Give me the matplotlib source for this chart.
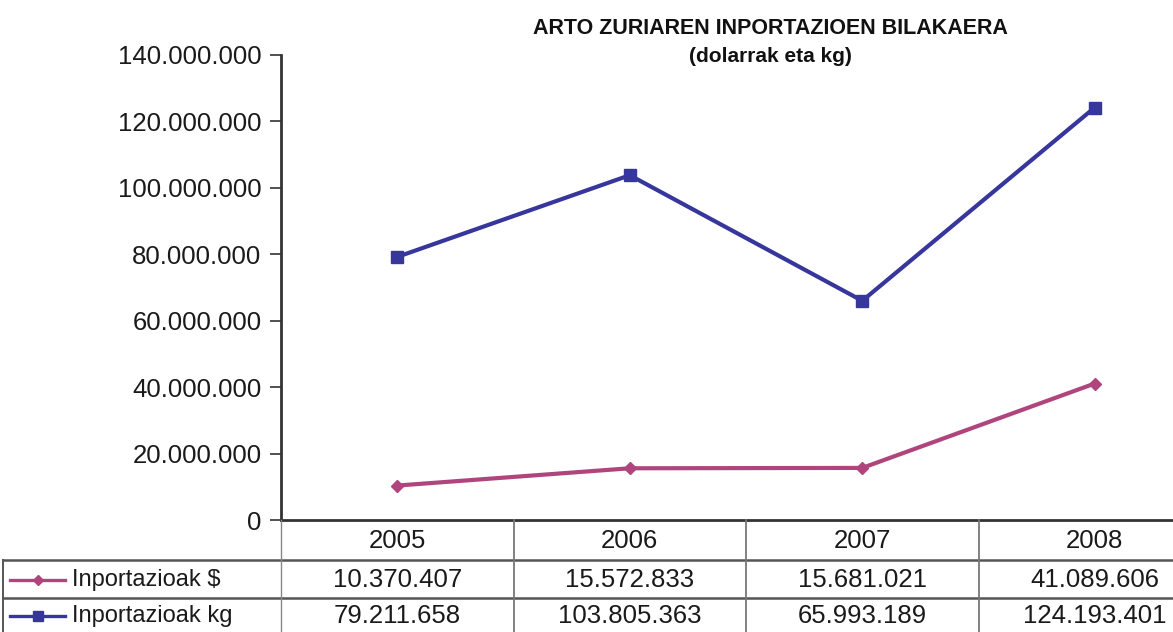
import matplotlib
matplotlib.use("Agg")
import matplotlib.pyplot as plt
import matplotlib.transforms as mtransforms
from matplotlib.lines import Line2D
from matplotlib.ticker import FuncFormatter, MultipleLocator

plt.rcParams["font.family"] = ["Liberation Sans", "DejaVu Sans"]

# ── Datuak ─────────────────────────────────────
YEARS = ["2005", "2006", "2007", "2008"]
IMPORT_USD = [10370407, 15572833, 15681021, 41089606]
IMPORT_KG = [79211658, 103805363, 65993189, 124193401]
SERIES_NAMES = ["Inportazioak $", "Inportazioak kg"]

TITLE = "ARTO ZURIAREN INPORTAZIOEN BILAKAERA"
SUBTITLE = "(dolarrak eta kg)"

COL_USD = "#B0457E"
COL_KG = "#36369C"
AXIS_COL = "#333333"
GRID_COL = "#555555"
TXT_COL = "#1a1a1a"

W, H = 1173, 632
fig = plt.figure(figsize=(W / 100, H / 100), dpi=100)
fig.patch.set_facecolor("white")


def fx(px):
    return px / W


def fy(py):
    return 1 - py / H


def fmt_dots(v):
    return f"{v:,.0f}".replace(",", ".")


# plot area: y axis at x=281, zero at y=520, top (140M) at y=55
band_px = 232.5
x_left = 281
ax = fig.add_axes([fx(x_left), fy(520), 1 - fx(x_left), fy(55) - fy(520)])
ax.set_xlim(-0.5, -0.5 + (W - x_left) / band_px)
ax.set_ylim(0, 140_000_000)

xs = list(range(len(YEARS)))
ax.plot(xs, IMPORT_KG, color=COL_KG, lw=3, marker="s", ms=8, clip_on=False)
ax.plot(xs, IMPORT_USD, color=COL_USD, lw=3, marker="D", ms=6, clip_on=False)

ax.yaxis.set_major_locator(MultipleLocator(20_000_000))
ax.yaxis.set_major_formatter(FuncFormatter(lambda v, _: fmt_dots(v)))
ax.tick_params(axis="y", direction="out", length=8, width=1.2, color=AXIS_COL,
               labelsize=18.5, pad=6, labelcolor=TXT_COL)
ax.set_xticks([])
for side in ("top", "right"):
    ax.spines[side].set_visible(False)
for side in ("left", "bottom"):
    ax.spines[side].set_color(AXIS_COL)
    ax.spines[side].set_linewidth(2)

# ── Titulua ─────────────────────────────────────
fig.text(fx(770), fy(29), TITLE, ha="center", va="center", fontsize=15.5,
         fontweight="bold", color="#111111")
fig.text(fx(770), fy(57), SUBTITLE, ha="center", va="center", fontsize=15,
         fontweight="bold", color="#111111")

# ── Datu taula ─────────────────────────────────
trans = mtransforms.blended_transform_factory(ax.transData, fig.transFigure)
row_lines = [560, 598]
for py in row_lines:
    fig.add_artist(Line2D([fx(3), 1], [fy(py), fy(py)], color=GRID_COL, lw=1.8))
# left border for data rows
fig.add_artist(Line2D([fx(3), fx(3)], [fy(560), 0], color=GRID_COL, lw=1.4))
# y axis continuing through the table
fig.add_artist(Line2D([fx(x_left), fx(x_left)], [fy(520), 0], color="#888888", lw=1.0))
# column separators
for xb in [0.5, 1.5, 2.5]:
    fig.add_artist(Line2D([xb, xb], [fy(520), 0], color="#777777", lw=1.3,
                          transform=trans))

row_y = [fy(541), fy(580), fy(616)]
for x, yr in zip(xs, YEARS):
    fig.text(x, row_y[0], yr, transform=trans, ha="center", va="center",
             fontsize=18.5, color=TXT_COL)

for vals, ry in zip([IMPORT_USD, IMPORT_KG], row_y[1:]):
    for x, v in zip(xs, vals):
        fig.text(x, ry, fmt_dots(v), transform=trans,
                 ha="center", va="center", fontsize=18.5, color=TXT_COL)

# legend keys inside the table rows
for name, col, mk, ms, ry in zip(SERIES_NAMES, [COL_USD, COL_KG], ["D", "s"],
                                 [5.5, 6.5], row_y[1:]):
    fig.add_artist(Line2D([fx(10), fx(65)], [ry, ry], color=col, lw=2.4))
    fig.add_artist(Line2D([fx(38)], [ry], color=col, marker=mk, ms=ms, lw=0))
    fig.text(fx(72), ry, name, ha="left", va="center", fontsize=17, color=TXT_COL)

fig.savefig("out.png", dpi=100)
